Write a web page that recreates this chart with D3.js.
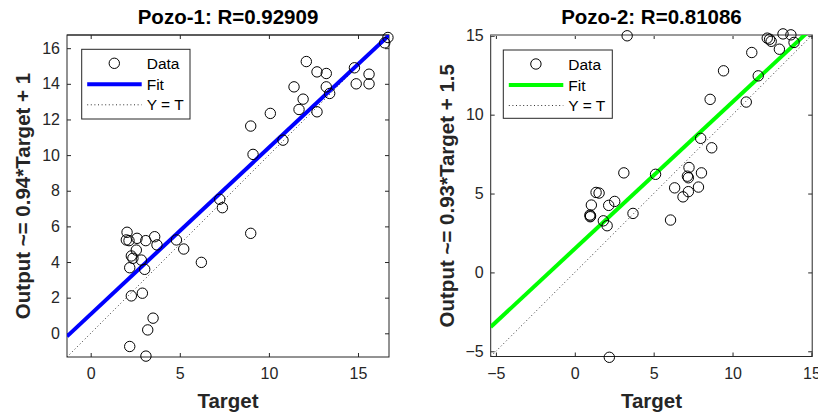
<!DOCTYPE html>
<html>
<head>
<meta charset="utf-8">
<script src="https://cdnjs.cloudflare.com/ajax/libs/d3/7.8.5/d3.min.js"></script>
<style>
  body { margin: 0; background: #fff; }
</style>
</head>
<body>
<div id="chart"></div>
<script>
// ########## data #######
var pozo1Target = [16.68, 16.5, 12.1, 12.7, 13.22, 14.8, 15.62, 14.9, 15.62, 11.41, 13.22, 13.41, 11.92, 11.69, 12.7,
  10.08, 8.98, 10.79, 9.11, 7.24, 7.39, 2.04, 2.0, 2.15, 2.6, 3.09, 3.59, 3.72, 2.56, 2.28, 2.37, 2.84, 2.19, 3.03,
  4.81, 5.22, 6.21, 8.98, 2.28, 2.9, 3.5, 3.2, 2.19, 3.1];
var pozo1Output = [16.6, 16.3, 15.25, 14.67, 14.58, 14.9, 14.54, 14.0, 14.0, 13.83, 13.83, 13.46, 13.14, 12.56, 12.43,
  12.34, 11.63, 10.84, 10.04, 7.52, 7.05, 5.67, 5.24, 5.2, 5.33, 5.2, 5.42, 4.96, 4.67, 4.34, 4.21, 4.11, 3.68, 3.59,
  5.24, 4.73, 3.98, 5.61, 2.1, 2.25, 0.85, 0.19, -0.74, -1.28];
var pozo1Fit = [0.935, 1.07];          // slope, intercept
var pozo1Limits = [-1.33, 16.74];
var pozo1XTicks = [0, 5, 10, 15];
var pozo1YTicks = [0, 2, 4, 6, 8, 10, 12, 14, 16];

var pozo2Target = [3.32, 12.2, 12.35, 12.45, 13.2, 13.7, 13.9, 12.97, 11.22, 9.43, 11.63, 8.58, 10.87, 7.98, 8.68,
  7.24, 7.14, 7.2, 8.03, 5.12, 3.11, 6.33, 7.2, 7.84, 6.86, 1.35, 1.54, 1.05, 2.15, 2.53, 0.96, 0.98, 1.0, 1.81,
  2.05, 3.69, 6.07, 2.19];
var pozo2Output = [15.0, 14.85, 14.78, 14.65, 15.12, 15.06, 14.58, 14.15, 13.94, 12.78, 12.46, 10.97, 10.8, 8.5, 7.9,
  6.65, 6.1, 6.0, 6.31, 6.22, 6.31, 5.36, 5.12, 5.41, 4.79, 5.07, 5.03, 4.27, 4.25, 4.5, 3.64, 3.53, 3.58, 3.27,
  2.96, 3.74, 3.32, -5.38];
var pozo2Fit = [0.93, 1.5];
var pozo2Limits = [-5.33, 15.05];
var pozo2XTicks = [-5, 0, 5, 10, 15];
var pozo2YTicks = [-5, 0, 5, 10, 15];

var titles = ["Pozo-1: R=0.92909", "Pozo-2: R=0.81086"];
var yLabels = ["Output ~= 0.94*Target + 1", "Output ~= 0.93*Target + 1.5"];
var legendLabels = ["Data", "Fit", "Y = T"];

function renderRegression(params) {
  var attrs = {
    svg: null,
    left: 67, top: 35, size: 322,
    limits: [0, 1],
    xTicks: [], yTicks: [],
    target: [], output: [],
    fit: [1, 0],
    fitColor: "#0000ff",
    title: "", yLabel: "", xLabel: "Target",
    legendX: 15, legendY: 14, legendW: 108, legendH: 70,
    topLineColor: "#262626",
    fontFamily: '"Liberation Sans", Arial, sans-serif',
    axisColor: "#262626"
  };
  Object.keys(params).forEach(function (k) { attrs[k] = params[k]; });

  var calc = {};
  calc.id = "ID" + Math.floor(Math.random() * 1000000);
  calc.right = attrs.left + attrs.size;
  calc.bottom = attrs.top + attrs.size;

  // ########## scales #######
  var x = d3.scaleLinear().domain(attrs.limits).range([attrs.left, calc.right]);
  var y = d3.scaleLinear().domain(attrs.limits).range([calc.bottom, attrs.top]);

  var g = attrs.svg.append("g");

  g.append("clipPath").attr("id", calc.id)
    .append("rect")
    .attr("x", attrs.left).attr("y", attrs.top)
    .attr("width", attrs.size).attr("height", attrs.size);

  // axes with inner ticks on all four sides
  function styleAxis(sel) {
    sel.select(".domain").remove();
    sel.selectAll(".tick line").attr("stroke", attrs.axisColor);
    sel.selectAll(".tick text")
      .attr("fill", attrs.axisColor)
      .style("font-family", attrs.fontFamily)
      .style("font-size", "16px");
  }

  g.append("g").attr("transform", "translate(0," + calc.bottom + ")")
    .call(d3.axisBottom(x).tickValues(attrs.xTicks).tickSizeInner(-4).tickSizeOuter(0).tickPadding(11))
    .call(styleAxis);
  g.append("g").attr("transform", "translate(0," + attrs.top + ")")
    .call(d3.axisTop(x).tickValues(attrs.xTicks).tickSizeInner(-4).tickSizeOuter(0).tickFormat(""))
    .call(styleAxis);
  g.append("g").attr("transform", "translate(" + attrs.left + ",0)")
    .call(d3.axisLeft(y).tickValues(attrs.yTicks).tickSizeInner(-4).tickSizeOuter(0).tickPadding(7))
    .call(styleAxis);
  g.append("g").attr("transform", "translate(" + calc.right + ",0)")
    .call(d3.axisRight(y).tickValues(attrs.yTicks).tickSizeInner(-4).tickSizeOuter(0).tickFormat(""))
    .call(styleAxis);

  // box
  g.append("rect")
    .attr("x", attrs.left).attr("y", attrs.top)
    .attr("width", attrs.size).attr("height", attrs.size)
    .attr("fill", "none").attr("stroke", attrs.axisColor).attr("stroke-width", 1);
  g.append("line")
    .attr("x1", attrs.left).attr("x2", calc.right)
    .attr("y1", attrs.top).attr("y2", attrs.top)
    .attr("stroke", attrs.topLineColor)
    .attr("stroke-width", attrs.topLineColor === attrs.axisColor ? 1 : 2.2);

  var lim = attrs.limits;
  var line = d3.line().x(function (d) { return x(d[0]); }).y(function (d) { return y(d[1]); });

  // Y = T
  g.append("path")
    .attr("d", line([[lim[0], lim[0]], [lim[1], lim[1]]]))
    .attr("stroke", "#333").attr("stroke-width", 1)
    .attr("stroke-dasharray", "1,2.6").attr("fill", "none")
    .attr("clip-path", "url(#" + calc.id + ")");

  // fit
  var fitPts = lim.map(function (t) { return [t, attrs.fit[0] * t + attrs.fit[1]]; });
  g.append("path")
    .attr("d", line(fitPts))
    .attr("stroke", attrs.fitColor).attr("stroke-width", 4).attr("fill", "none")
    .attr("clip-path", "url(#" + calc.id + ")");

  // data
  g.selectAll(".pt").data(attrs.target.map(function (t, i) { return [t, attrs.output[i]]; }))
    .enter().append("circle")
    .attr("class", "pt")
    .attr("cx", function (d) { return x(d[0]); })
    .attr("cy", function (d) { return y(d[1]); })
    .attr("r", 5.2)
    .attr("fill", "none").attr("stroke", "#000").attr("stroke-width", 1);

  // ##### legend #####
  var lg = g.append("g")
    .attr("transform", "translate(" + (attrs.left + attrs.legendX) + "," + (attrs.top + attrs.legendY) + ")");
  lg.append("rect")
    .attr("width", attrs.legendW).attr("height", attrs.legendH)
    .attr("fill", "#fff").attr("stroke", attrs.axisColor).attr("stroke-width", 1);
  var rowY = [14, 35, 55.5];
  lg.append("circle").attr("cx", 32.6).attr("cy", rowY[0]).attr("r", 5.2)
    .attr("fill", "none").attr("stroke", "#000");
  lg.append("line").attr("x1", 5.5).attr("x2", 60).attr("y1", rowY[1]).attr("y2", rowY[1])
    .attr("stroke", attrs.fitColor).attr("stroke-width", 4);
  lg.append("line").attr("x1", 5.5).attr("x2", 60).attr("y1", rowY[2]).attr("y2", rowY[2])
    .attr("stroke", "#333").attr("stroke-dasharray", "1,2.6");
  lg.selectAll(".lgText").data(legendLabels).enter().append("text")
    .attr("class", "lgText")
    .attr("x", 65).attr("y", function (d, i) { return rowY[i]; })
    .attr("dy", "0.36em")
    .style("font-family", attrs.fontFamily).style("font-size", "15.5px")
    .attr("fill", "#000")
    .text(function (d) { return d; });

  // titles and labels
  g.append("text")
    .attr("x", (attrs.left + calc.right) / 2).attr("y", 24)
    .attr("text-anchor", "middle")
    .style("font-family", attrs.fontFamily).style("font-size", "20.5px").style("font-weight", "bold")
    .attr("fill", "#000")
    .text(attrs.title);
  g.append("text")
    .attr("x", (attrs.left + calc.right) / 2).attr("y", 408)
    .attr("text-anchor", "middle")
    .style("font-family", attrs.fontFamily).style("font-size", "20.5px").style("font-weight", "bold")
    .attr("fill", "#262626")
    .text(attrs.xLabel);
  g.append("text")
    .attr("transform", "translate(" + (attrs.left - 37) + "," + ((attrs.top + calc.bottom) / 2) + ") rotate(-90)")
    .attr("text-anchor", "middle")
    .style("font-family", attrs.fontFamily).style("font-size", "20.5px").style("font-weight", "bold")
    .attr("fill", "#262626")
    .text(attrs.yLabel);
}

//Add svg
var svg = d3.select("#chart").append("svg")
  .attr("width", 818).attr("height", 415);

renderRegression({
  svg: svg, left: 67, top: 35, size: 322,
  limits: pozo1Limits, xTicks: pozo1XTicks, yTicks: pozo1YTicks,
  target: pozo1Target, output: pozo1Output, fit: pozo1Fit,
  fitColor: "#0000ff", title: titles[0], yLabel: yLabels[0],
  legendX: 14.7, legendY: 14.3, legendW: 108.3, legendH: 69.7
});

renderRegression({
  svg: svg, left: 490.7, top: 35, size: 321.5,
  limits: pozo2Limits, xTicks: pozo2XTicks, yTicks: pozo2YTicks,
  target: pozo2Target, output: pozo2Output, fit: pozo2Fit,
  fitColor: "#00ff00", title: titles[1], yLabel: yLabels[1],
  legendX: 12.6, legendY: 15, legendW: 109, legendH: 68.3,
  topLineColor: "#9a9a9a"
});
</script>
</body>
</html>
